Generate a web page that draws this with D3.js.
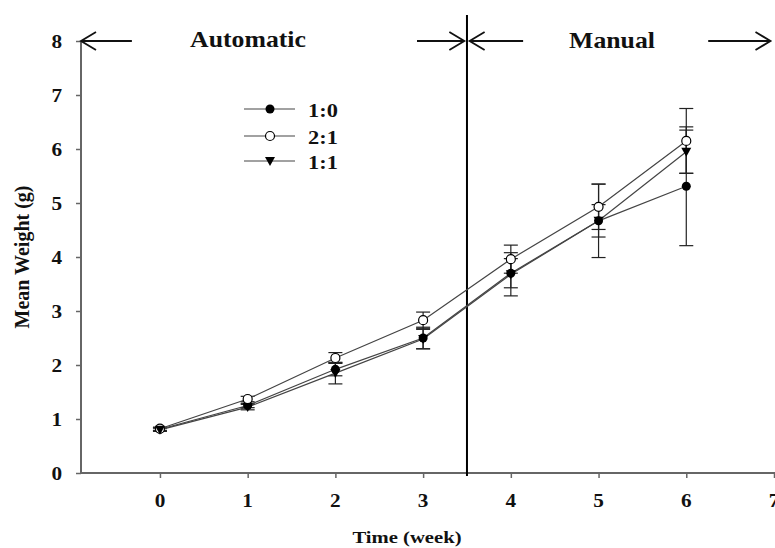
<!DOCTYPE html>
<html><head><meta charset="utf-8">
<script src="https://cdn.jsdelivr.net/npm/d3@7"></script>
<style>
body{margin:0;background:#fff;}
text{font-family:"Liberation Serif","Times New Roman",serif;font-weight:bold;fill:#111;}
</style></head>
<body><svg id="c" width="775" height="548"></svg>
<script>
const weeks = [0,1,2,3,4,5,6];
const seriesNames = ["1:0","2:1","1:1"];
const mean_1_0 = [0.81,1.25,1.92,2.50,3.70,4.67,5.31];
const err_1_0  = [0.03,0.04,0.12,0.20,0.27,0.30,1.10];
const mean_2_1 = [0.82,1.37,2.13,2.83,3.96,4.93,6.15];
const err_2_1  = [0.03,0.05,0.10,0.15,0.26,0.42,0.60];
const mean_1_1 = [0.80,1.22,1.85,2.48,3.68,4.67,5.95];
const err_1_1  = [0.03,0.05,0.20,0.18,0.40,0.68,0.40];
const xTicks = [0,1,2,3,4,5,6,7];
const yTicks = [0,1,2,3,4,5,6,7,8];
const phaseLabels = ["Automatic","Manual"];
const phaseSplit = 3.5;

const svg = d3.select("#c");
const x = d3.scaleLinear().domain([-0.9,7]).range([81,774]);
const y = d3.scaleLinear().domain([0,8]).range([473,41]);
const SX = 1.18; // horizontal stretch of the reference lettering

function label(px,py,str,size,anchor,stretch){
  return svg.append("text")
    .attr("transform",`translate(${px},${py}) scale(${stretch==null?SX:stretch},1)`)
    .attr("text-anchor",anchor||"start")
    .style("font-size",size+"px").text(str);
}

// axes
const gx = svg.append("g").attr("transform","translate(0,473)")
  .call(d3.axisBottom(x).tickValues(xTicks).tickSize(5).tickFormat(""));
const gy = svg.append("g").attr("transform","translate(81,0)")
  .call(d3.axisLeft(y).tickValues(yTicks).tickSize(5).tickFormat(""));
[gx,gy].forEach(g=>{
  g.select(".domain").attr("stroke","#666").attr("stroke-width",2);
  g.selectAll(".tick line").attr("stroke","#666").attr("stroke-width",1.5);
});
gx.select(".domain").attr("d","M81,0H775");
gy.select(".domain").attr("d","M0,473V41");
xTicks.forEach(t=>label(x(t),507,String(t),18,"middle"));
yTicks.forEach(t=>label(62,y(t)+7,String(t),18,"end"));

// axis titles
label(407,543,"Time (week)",17.5,"middle");
svg.append("text").attr("transform","translate(29,257) rotate(-90)").attr("text-anchor","middle").style("font-size","20px").text("Mean Weight (g)");

// phase divider
svg.append("line").attr("x1",x(phaseSplit)).attr("x2",x(phaseSplit)).attr("y1",15).attr("y2",476)
  .attr("stroke","#000").attr("stroke-width",2);

// arrows
function arrow(x0,x1){ // tail x0 -> tip x1
  const yy=y(8), tx=x(x1), dir = x1>x0?1:-1;
  svg.append("path").attr("d",`M${x(x0)},${yy}H${tx}M${tx-dir*15},${yy-9}L${tx},${yy}L${tx-dir*15},${yy+9}`)
    .attr("fill","none").attr("stroke","#111").attr("stroke-width",1.8);
}
arrow(-0.32,-0.9);
arrow(2.93,3.47);
arrow(4.14,3.53);
arrow(6.25,6.96);
label(248,47,phaseLabels[0],23,"middle",1.12);
label(612,48,phaseLabels[1],23,"middle",1.12);

const series = [
  {name:seriesNames[0], m:mean_1_0, e:err_1_0, type:"filled"},
  {name:seriesNames[1], m:mean_2_1, e:err_2_1, type:"open"},
  {name:seriesNames[2], m:mean_1_1, e:err_1_1, type:"tri"}
];
const line = d3.line().x((d,i)=>x(weeks[i])).y(d=>y(d));
const triPath = "M-5,-4L5,-4L0,5Z";

// error bars
series.forEach(s=>{
  const g = svg.append("g").attr("stroke","#222").attr("stroke-width",1.2);
  s.m.forEach((v,i)=>{
    const cx=x(weeks[i]), y1=y(v+s.e[i]), y2=y(v-s.e[i]);
    g.append("line").attr("x1",cx).attr("x2",cx).attr("y1",y1).attr("y2",y2);
    g.append("line").attr("x1",cx-7).attr("x2",cx+7).attr("y1",y1).attr("y2",y1);
    g.append("line").attr("x1",cx-7).attr("x2",cx+7).attr("y1",y2).attr("y2",y2);
  });
});
// lines
series.forEach(s=>{
  svg.append("path").attr("d",line(s.m)).attr("fill","none").attr("stroke","#444").attr("stroke-width",1.2);
});
function marker(g,type,cx,cy){
  if(type==="filled") g.append("circle").attr("cx",cx).attr("cy",cy).attr("r",4.5).attr("fill","#000");
  else if(type==="open") g.append("circle").attr("cx",cx).attr("cy",cy).attr("r",4.5).attr("fill","#fff").attr("stroke","#000").attr("stroke-width",1.2);
  else g.append("path").attr("d",triPath).attr("transform",`translate(${cx},${cy})`).attr("fill","#000");
}
series.forEach(s=>{
  const g=svg.append("g");
  s.m.forEach((v,i)=>marker(g,s.type,x(weeks[i]),y(v)));
});

// legend
const legY=[109,136,161];
series.forEach((s,i)=>{
  svg.append("line").attr("x1",244).attr("x2",295).attr("y1",legY[i]).attr("y2",legY[i]).attr("stroke","#444").attr("stroke-width",1.2);
  marker(svg,s.type,270,legY[i]);
  label(308,legY[i]+8,s.name,19,"start");
});
</script></body></html>
